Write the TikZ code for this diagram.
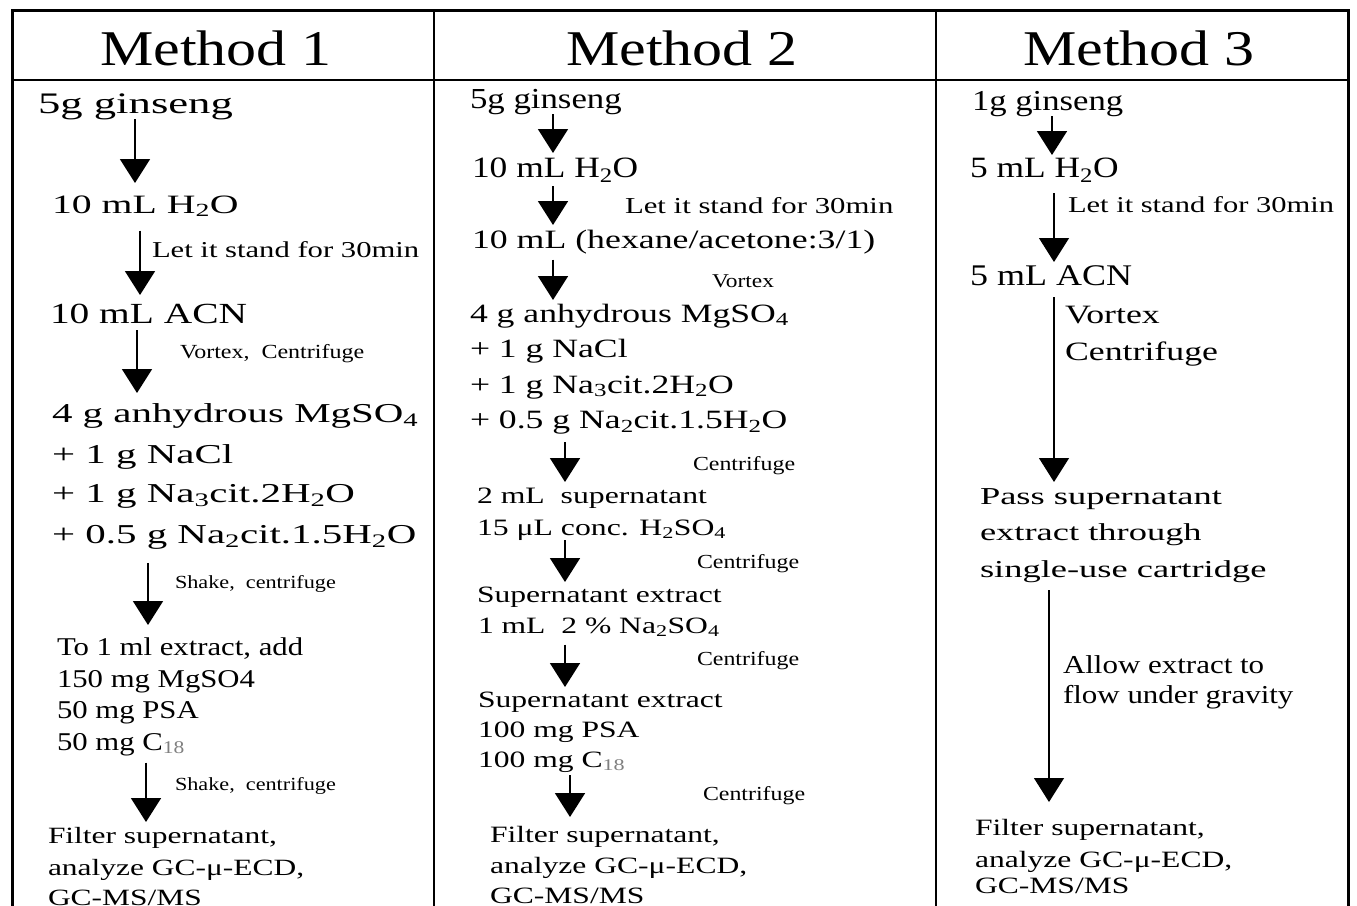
\documentclass[tikz,border=0pt]{standalone}
\usepackage{fontspec}
\setmainfont{Liberation Serif}
\newfontfamily\fstA[FakeStretch=1.2]{Liberation Serif}
\newfontfamily\fstB[FakeStretch=1.35]{Liberation Serif}
\newfontfamily\fstC[FakeStretch=1.5]{Liberation Serif}
\usetikzlibrary{arrows.meta}
\newcommand\fsA[1]{\fstA\fontsize{#1}{#1}\selectfont}
\newcommand\fsB[1]{\fstB\fontsize{#1}{#1}\selectfont}
\newcommand\fsC[1]{\fstC\fontsize{#1}{#1}\selectfont}
\newcommand\sbs[1]{\textsubscript{#1}}
\newcommand\gsbs[1]{\textsubscript{\textcolor{gray}{#1}}}
\tikzset{
  tx/.style={anchor=base west, inner sep=0pt, outer sep=0pt},
  ttl/.style={anchor=base, inner sep=0pt, outer sep=0pt, font={\fsA{50}}},
  arr/.style={line width=1.8pt, -{Triangle[width=30pt,length=24pt]}},
  arrthin/.style={line width=1.2pt, -{Triangle[width=30pt,length=24pt]}},
  frame/.style={line width=3pt},
  rule/.style={line width=2pt}
}
\begin{document}
\begin{tikzpicture}[x=1pt,y=-1pt]
\useasboundingbox (0,0) rectangle (1357,905);
% table
\draw[frame] (12,910) -- (12,10) -- (1348,10) -- (1348,910);
\draw[rule] (12,80) -- (1348,80);
\draw[rule] (434,10) -- (434,910);
\draw[rule] (936,10) -- (936,910);
% titles
\node[ttl] (t1) at (216,65) {Method 1};
\node[ttl] (t2) at (682,65) {Method 2};
\node[ttl] (t3) at (1139,65) {Method 3};

% ---------------- Method 1
\node[tx, font={\fsC{29.8}}] (m1g) at (38,113) {5g ginseng};
\node[tx, font={\fsC{26.5}}] (m1h) at (52,213) {10 mL H\sbs{2}O};
\node[tx, font={\fsB{29.2}}] (m1c) at (50,323) {10 mL ACN};
\node[tx, font={\fsC{27.3}}] (m1d1) at (52,422) {4 g anhydrous MgSO\sbs{4}};
\node[tx, font={\fsC{27.3}}] (m1d2) at (52,463) {+ 1 g NaCl};
\node[tx, font={\fsC{27.3}}] (m1d3) at (52,502) {+ 1 g Na\sbs{3}cit.2H\sbs{2}O};
\node[tx, font={\fsC{27.3}}] (m1d4) at (52,543) {+ 0.5 g Na\sbs{2}cit.1.5H\sbs{2}O};
\node[tx, font={\fsA{25.6}}] (m1e1) at (57,655) {To 1 ml extract, add};
\node[tx, font={\fsA{25.6}}] (m1e2) at (57,687) {150 mg MgSO4};
\node[tx, font={\fsA{25.6}}] (m1e3) at (57,718) {50 mg PSA};
\node[tx, font={\fsA{25.6}}] (m1e4) at (57,750) {50 mg C\gsbs{18}};
\node[tx, font={\fsB{23.3}}] (m1f1) at (48,843) {Filter supernatant,};
\node[tx, font={\fsB{23.3}}] (m1f2) at (48,875) {analyze GC-μ-ECD,};
\node[tx, font={\fsB{23.3}}] (m1f3) at (48,905) {GC-MS/MS};
% labels
\node[tx, font={\fsB{22.7}}] (m1l1) at (152,257) {Let it stand for 30min};
\node[tx, font={\fsA{20}}] (m1l2) at (180,358) {Vortex,~~Centrifuge};
\node[tx, font={\fsA{18.5}}] (m1l3) at (175,588) {Shake,~~centrifuge};
\node[tx, font={\fsA{18.5}}] (m1l4) at (175,790) {Shake,~~centrifuge};
% arrow tips
\coordinate (p1) at (135,183);
\coordinate (p2) at (140,295);
\coordinate (p3) at (137,393);
\coordinate (p4) at (148,625);
\coordinate (p5) at (146,822);
\draw[arr] (m1g.south -| p1) -- (p1);
\draw[arr, shorten <=14pt] (m1h.south -| p2) -- (p2);
\draw[arr, shorten <=7pt] (m1c.south -| p3) -- (p3);
\draw[arr, shorten <=14pt] (m1d4.south -| p4) -- (p4);
\draw[arr, shorten <=7pt] (m1e4.south -| p5) -- (p5);

% ---------------- Method 2
\node[tx, font={\fsA{29}}] (m2g) at (470,108) {5g ginseng};
\node[tx, font={\fsA{29.5}}] (m2h) at (472,177) {10 mL H\sbs{2}O};
\node[tx, font={\fsB{26.5}}] (m2k) at (472,248) {10 mL (hexane/acetone:3/1)};
\node[tx, font={\fsB{26.4}}] (m2d1) at (470,322) {4 g anhydrous MgSO\sbs{4}};
\node[tx, font={\fsB{26.4}}] (m2d2) at (470,357.5) {+ 1 g NaCl};
\node[tx, font={\fsB{26.4}}] (m2d3) at (470,393) {+ 1 g Na\sbs{3}cit.2H\sbs{2}O};
\node[tx, font={\fsB{26.4}}] (m2d4) at (470,428.5) {+ 0.5 g Na\sbs{2}cit.1.5H\sbs{2}O};
\node[tx, font={\fsB{23.5}}] (m2e1) at (477,503) {2 mL~~supernatant};
\node[tx, font={\fsB{23.5}}] (m2e2) at (477,535) {15 μL conc. H\sbs{2}SO\sbs{4}};
\node[tx, font={\fsB{23.4}}] (m2s1) at (477,602) {Supernatant extract};
\node[tx, font={\fsB{23.4}}] (m2s2) at (478,633) {1 mL~~2 \% Na\sbs{2}SO\sbs{4}};
\node[tx, font={\fsB{23.4}}] (m2u1) at (478,707) {Supernatant extract};
\node[tx, font={\fsB{23.4}}] (m2u2) at (478,737) {100 mg PSA};
\node[tx, font={\fsB{23.4}}] (m2u3) at (478,767) {100 mg C\gsbs{18}};
\node[tx, font={\fsB{23.4}}] (m2f1) at (490,842) {Filter supernatant,};
\node[tx, font={\fsB{23.4}}] (m2f2) at (490,873) {analyze GC-μ-ECD,};
\node[tx, font={\fsB{23.4}}] (m2f3) at (490,903) {GC-MS/MS};
% labels
\node[tx, font={\fsB{22.8}}] (m2l1) at (625,213) {Let it stand for 30min};
\node[tx, font={\fsA{19.5}}] (m2l2) at (712,287) {Vortex};
\node[tx, font={\fsA{19.9}}] (m2l3) at (693,470) {Centrifuge};
\node[tx, font={\fsA{19.9}}] (m2l4) at (697,568) {Centrifuge};
\node[tx, font={\fsA{19.9}}] (m2l5) at (697,665) {Centrifuge};
\node[tx, font={\fsA{19.9}}] (m2l6) at (703,800) {Centrifuge};
% arrow tips
\coordinate (q1) at (553,153);
\coordinate (q2) at (553,225);
\coordinate (q3) at (553,300);
\coordinate (q4) at (565,482);
\coordinate (q5) at (565,582);
\coordinate (q6) at (565,687);
\coordinate (q7) at (570,817);
\draw[arr] (m2g.south -| q1) -- (q1);
\draw[arr, shorten <=4pt] (m2h.south -| q2) -- (q2);
\draw[arr, shorten <=6pt] (m2k.south -| q3) -- (q3);
\draw[arr, shorten <=8pt] (m2d4.south -| q4) -- (q4);
\draw[arr] (m2e2.south -| q5) -- (q5);
\draw[arr, shorten <=8pt] (m2s2.south -| q6) -- (q6);
\draw[arr, shorten <=3pt] (m2u3.south -| q7) -- (q7);

% ---------------- Method 3
\node[tx, font={\fsA{28.9}}] (m3g) at (972,110) {1g ginseng};
\node[tx, font={\fsA{29.5}}] (m3h) at (970,177) {5 mL H\sbs{2}O};
\node[tx, font={\fsA{30}}] (m3k) at (970,285) {5 mL ACN};
\node[tx, font={\fsC{24.3}}] (m3p1) at (980,504) {Pass supernatant};
\node[tx, font={\fsC{24.3}}] (m3p2) at (980,540) {extract through};
\node[tx, font={\fsC{24.3}}] (m3p3) at (980,577) {single-use~cartridge};
\node[tx, font={\fsB{23.4}}] (m3f1) at (975,835) {Filter supernatant,};
\node[tx, font={\fsB{23.4}}] (m3f2) at (975,867) {analyze GC-μ-ECD,};
\node[tx, font={\fsB{23.4}}] (m3f3) at (975,893) {GC-MS/MS};
% labels
\node[tx, font={\fsB{22.6}}] (m3l1) at (1068,212) {Let it stand for 30min};
\node[tx, font={\fsB{26.5}}] (m3l2) at (1065,323) {Vortex};
\node[tx, font={\fsB{26.5}}] (m3l3) at (1065,360) {Centrifuge};
\node[tx, font={\fsA{25.8}}] (m3l4) at (1063,673) {Allow extract to};
\node[tx, font={\fsA{25.8}}] (m3l5) at (1063,703) {flow under gravity};
% arrow tips
\coordinate (r1) at (1052,155);
\coordinate (r2) at (1054,262);
\coordinate (r3) at (1054,482);
\coordinate (r4) at (1049,802);
\draw[arr] (m3g.south -| r1) -- (r1);
\draw[arrthin, shorten <=11pt] (m3h.south -| r2) -- (r2);
\draw[arrthin, shorten <=12pt] (m3k.south -| r3) -- (r3);
\draw[arrthin, shorten <=8pt] (m3p3.south -| r4) -- (r4);
\end{tikzpicture}
\end{document}
